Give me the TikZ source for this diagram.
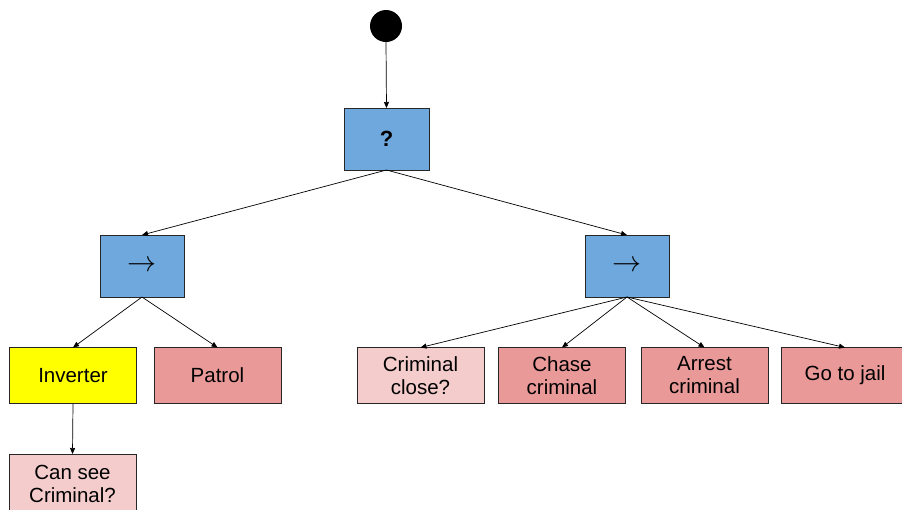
\documentclass[tikz,border=0pt]{standalone}
\usepackage{fontspec}
\setmainfont{Liberation Sans}
\usetikzlibrary{arrows.meta}
\definecolor{selblue}{HTML}{6FA8DC}
\definecolor{actred}{HTML}{EA9999}
\definecolor{condpink}{HTML}{F4CCCC}
\definecolor{decoyellow}{HTML}{FFFF00}
\newcommand{\seqmark}{\resizebox{29pt}{!}{$\rightarrow$}}
\begin{document}
\begin{tikzpicture}[x=1pt,y=-1pt,
  every node/.style={inner sep=0pt, outer sep=0pt},
  ctrl/.style={rectangle, draw=black!85, line width=0.9pt, fill=selblue,
    minimum width=84pt, minimum height=62pt},
  leaf/.style={rectangle, draw=black!85, line width=0.9pt,
    minimum width=127pt, minimum height=56pt, align=center,
    font=\fontsize{20.5}{23}\selectfont},
  action/.style={leaf, fill=actred},
  cond/.style={leaf, fill=condpink},
  deco/.style={leaf, fill=decoyellow},
  link/.style={draw=black, line width=0.7pt,
    -{Triangle[length=6pt,width=5pt]}}]
\useasboundingbox (0,0) rectangle (902,509);

% root and composite nodes
\node[circle, fill=black, minimum size=32pt] (root) at (386,26) {};
\node[ctrl, minimum width=85pt] (sel) at (386.5,139)
  {\fontsize{22}{22}\selectfont\bfseries ?};
\node[ctrl] (seqL) at (142,266) {\seqmark};
\node[ctrl] (seqR) at (627,266) {\seqmark};

% leaves
\node[deco] (inv) at (73,375.5) {Inverter};
\node[action] (patrol) at (217.5,375.5) {Patrol};
\node[cond] (close) at (420.5,375.5) {Criminal\\close?};
\node[action] (chase) at (562,375.5) {Chase\\criminal};
\node[action] (arrest) at (704.5,375.5) {Arrest\\criminal};
\node[action] (jail) at (845,375.5) {Go to jail};
\node[cond, minimum height=60pt] (see) at (72.5,484) {Can see\\Criminal?};

% connectors
\draw[link] (root.south) -- (sel.north);
\draw[link] (sel.south) -- (seqL.north);
\draw[link] (sel.south) -- (seqR.north);
\draw[link] (seqL.south) -- (inv.north);
\draw[link] (seqL.south) -- (patrol.north);
\draw[link] (seqR.south) -- (close.north);
\draw[link] (seqR.south) -- (chase.north);
\draw[link] (seqR.south) -- (arrest.north);
\draw[link] (seqR.south) -- (jail.north);
\draw[link] (inv.south) -- (see.north);
\end{tikzpicture}
\end{document}
